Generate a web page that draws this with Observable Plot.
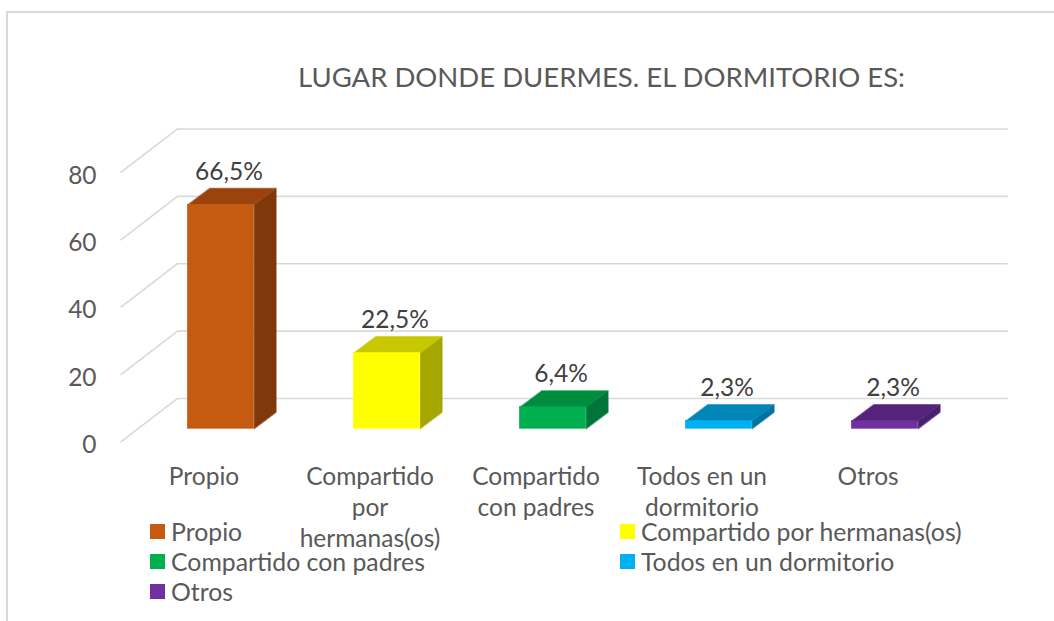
<!DOCTYPE html>
<html>
<head>
<meta charset="utf-8">
<script src="https://cdn.jsdelivr.net/npm/d3@7"></script>
<script src="https://cdn.jsdelivr.net/npm/@observablehq/plot@0.6"></script>
<style>
  html, body { margin: 0; padding: 0; background: #fff; }
  body { width: 1054px; height: 621px; overflow: hidden; font-family: Lato, "Open Sans", sans-serif; }
  #wrap { position: relative; width: 1054px; height: 621px; }
  #frame { position: absolute; left: 6px; top: 11px; width: 1100px; height: 700px;
           border-left: 2px solid #D9D9D9; border-top: 2px solid #D9D9D9; box-sizing: border-box; }
  #chart { position: absolute; left: 0; top: 0; }
  #title { position: absolute; width: 1200px; top: 61px; left: 298px; font-size: 27.5px; color: #595959; white-space: nowrap; line-height: 32px; }
  #legend { position: absolute; left: 150px; top: 516px; display: grid; grid-template-columns: 470px 470px; row-gap: 0; }
  .item { display: flex; align-items: center; height: 30px; font-size: 24.8px; color: #595959; white-space: nowrap; }
  .sw { width: 15px; height: 15px; margin-right: 6px; flex: none; }
</style>
</head>
<body>
<div id="wrap">
  <div id="frame"></div>
  <div id="chart"></div>
  <div id="title"></div>
  <div id="legend"></div>
</div>
<script>
// ---- data ----
const categories = ["Propio", "Compartido por hermanas(os)", "Compartido con padres", "Todos en un dormitorio", "Otros"];
const axisLabels = ["Propio", "Compartido\npor\nhermanas(os)", "Compartido\ncon padres", "Todos en un\ndormitorio", "Otros"];
const values = [66.5, 22.5, 6.4, 2.3, 2.3];
const valueLabels = ["66,5%", "22,5%", "6,4%", "2,3%", "2,3%"];
const frontColors = ["#C55A11", "#FFFF00", "#00B050", "#00B0F0", "#7030A0"];
const topColors = ["#9A430C", "#C8C800", "#008C3F", "#0087B8", "#55247A"];
const sideColors = ["#7E380B", "#A6A600", "#00753A", "#0073A0", "#4A1F6B"];
const yTicks = [0, 20, 40, 60, 80];
const titleText = "LUGAR DONDE DUERMES. EL DORMITORIO ES:";

// ---- 3D styling constants (in scale units) ----
const half = 0.2;          // half bar width
const depX = 0.1325;       // bar depth along x
const depY = 4.93;         // bar depth along y
const wallL = -0.262, wallR = 4.743, wallDY = 9.0;
const edgeL = -0.605, edgeDY = -3.98;

const rows = categories.map((c, i) => ({i, cat: c, v: values[i], lab: valueLabels[i], axis: axisLabels[i],
  front: frontColors[i], top: topColors[i], side: sideColors[i]}));

const topVerts = rows.flatMap(d => [
  {cat: d.cat, c: d.top, x: d.i - half, y: d.v},
  {cat: d.cat, c: d.top, x: d.i + half, y: d.v},
  {cat: d.cat, c: d.top, x: d.i + half + depX, y: d.v + depY},
  {cat: d.cat, c: d.top, x: d.i - half + depX, y: d.v + depY}
]);
const sideVerts = rows.flatMap(d => [
  {cat: d.cat, c: d.side, x: d.i + half, y: 0},
  {cat: d.cat, c: d.side, x: d.i + half, y: d.v},
  {cat: d.cat, c: d.side, x: d.i + half + depX, y: d.v + depY},
  {cat: d.cat, c: d.side, x: d.i + half + depX, y: depY}
]);

const font = "Lato, 'Open Sans', sans-serif";
const grid = "#D9D9D9";
const fs = 24.5;

const plot = Plot.plot({
  width: 1054,
  height: 621,
  style: {fontFamily: font, background: "transparent", overflow: "visible"},
  x: {type: "linear", domain: [-0.5, 4.5], range: [137.5, 967.5], axis: null},
  y: {type: "linear", domain: [0, 80], range: [428.3, 158.8], axis: null},
  marks: [
    Plot.ruleY(yTicks, {y: d => d + wallDY, x1: wallL, x2: wallR, stroke: grid, strokeWidth: 1.6}),
    Plot.link(yTicks, {x1: edgeL, y1: d => d + edgeDY, x2: wallL, y2: d => d + wallDY, stroke: grid, strokeWidth: 1.6}),
    Plot.text(yTicks, {x: edgeL, y: d => d + edgeDY, text: d => String(d), textAnchor: "end", dx: -24, dy: 3,
      fontSize: fs, fill: "#595959"}),
    Plot.line(sideVerts, {x: "x", y: "y", z: "cat", fill: "c", stroke: "c", strokeWidth: 0.5, curve: "linear-closed"}),
    Plot.line(topVerts, {x: "x", y: "y", z: "cat", fill: "c", stroke: "c", strokeWidth: 0.5, curve: "linear-closed"}),
    Plot.rect(rows, {x1: d => d.i - half, x2: d => d.i + half, y1: 0, y2: "v", fill: "front", stroke: "front", strokeWidth: 0.5}),
    Plot.text(rows, {x: d => d.i + depX / 2, y: d => d.v + depY, text: "lab", dx: -3, dy: -16,
      fontSize: fs, fill: "#404040"}),
    Plot.text(rows, {x: "i", y: 0, text: "axis", dx: -17, dy: 34, lineAnchor: "top", lineHeight: 1.27,
      fontSize: fs, fill: "#595959"})
  ]
});
document.getElementById("chart").appendChild(plot);

document.getElementById("title").textContent = titleText;

const legend = document.getElementById("legend");
categories.forEach((c, i) => {
  const it = document.createElement("div");
  it.className = "item";
  const sw = document.createElement("span");
  sw.className = "sw";
  sw.style.background = frontColors[i];
  const tx = document.createElement("span");
  tx.textContent = c;
  it.appendChild(sw); it.appendChild(tx);
  legend.appendChild(it);
});
</script>
</body>
</html>
